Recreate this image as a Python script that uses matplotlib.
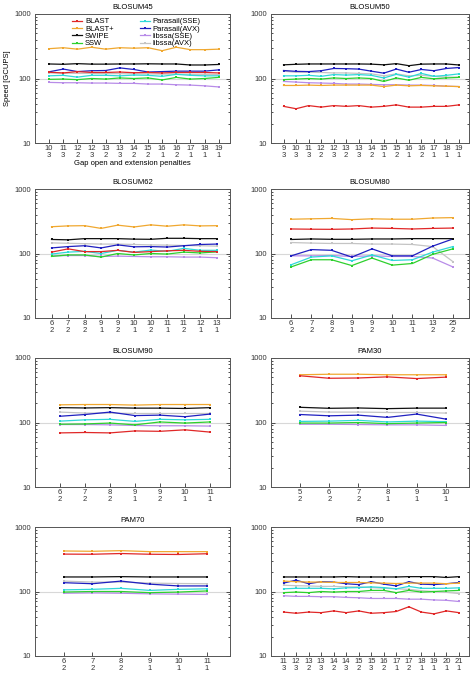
import matplotlib.pyplot as plt
from matplotlib.ticker import LogLocator, NullFormatter

plt.rcParams['font.family'] = ['Liberation Sans Narrow', 'Liberation Sans', 'DejaVu Sans']

# series order / colours / labels
names = ["BLAST", "BLAST+", "SWIPE", "SSW",
         "Parasail(SSE)", "Parasail(AVX)", "libssa(SSE)", "libssa(AVX)"]
colors = ["#e02828", "#f0a830", "#111111", "#2ed02e",
          "#30d8d8", "#2020c0", "#b88ce8", "#c4c4c4"]

# gap open / extension penalties per matrix
blosum45_ticks = ["10\n3", "11\n3", "12\n2", "12\n3", "13\n2", "13\n3", "14\n2",
                  "15\n2", "16\n1", "16\n2", "17\n1", "18\n1", "19\n1"]
blosum50_ticks = ["9\n3", "10\n3", "11\n3", "12\n2", "12\n3", "13\n2", "13\n3", "14\n2",
                  "15\n1", "15\n2", "16\n1", "16\n2", "17\n1", "18\n1", "19\n1"]
blosum62_ticks = ["6\n2", "7\n2", "8\n2", "9\n1", "9\n2", "10\n1", "10\n2",
                  "11\n1", "11\n2", "12\n1", "13\n1"]
blosum80_ticks = ["6\n2", "7\n2", "8\n2", "9\n1", "9\n2", "10\n1", "11\n1", "13\n2", "25\n2"]
blosum90_ticks = ["6\n2", "7\n2", "8\n2", "9\n1", "9\n2", "10\n1", "11\n1"]
pam30_ticks = ["5\n2", "6\n2", "7\n2", "8\n1", "9\n1", "10\n1"]
pam70_ticks = ["6\n2", "7\n2", "8\n2", "9\n1", "10\n1", "11\n1"]
pam250_ticks = ["11\n3", "12\n3", "13\n2", "13\n3", "14\n2", "14\n3", "15\n2", "15\n3",
                "16\n2", "17\n1", "17\n2", "18\n1", "19\n1", "20\n1", "21\n1"]

# speed in GCUPS, one list per tool (order of `names`)
blosum45 = [
    [125, 122, 128, 124, 124, 126, 123, 124, 122, 124, 124, 124, 122],
    [290, 300, 285, 305, 285, 300, 295, 300, 270, 305, 280, 280, 285],
    [168, 166, 170, 167, 167, 168, 168, 169, 168, 168, 162, 162, 165],
    [97, 98, 96, 100, 98, 102, 100, 102, 95, 104, 98, 100, 104],
    [110, 112, 105, 112, 112, 110, 113, 112, 108, 116, 112, 110, 110],
    [127, 140, 128, 132, 133, 146, 138, 126, 128, 130, 130, 130, 136],
    [87, 86, 86, 85, 85, 84, 84, 82, 82, 80, 79, 77, 74],
    [122, 121, 120, 120, 119, 119, 118, 118, 117, 117, 116, 116, 115],
]
blosum50 = [
    [37, 34, 38, 36, 38, 37, 38, 36, 37, 39, 36, 36, 37, 37, 39],
    [78, 78, 79, 78, 79, 79, 79, 79, 75, 79, 77, 78, 77, 76, 75],
    [163, 166, 168, 168, 168, 168, 168, 167, 163, 170, 158, 167, 168, 168, 162],
    [96, 98, 100, 98, 102, 100, 102, 100, 90, 102, 94, 104, 99, 102, 104],
    [110, 110, 112, 108, 115, 113, 115, 112, 102, 116, 105, 120, 108, 112, 118],
    [133, 129, 128, 132, 143, 142, 140, 130, 121, 140, 125, 138, 132, 143, 148],
    [90, 88, 86, 85, 84, 82, 82, 81, 80, 80, 79, 79, 78, 76, 75],
    [130, 125, 125, 124, 122, 122, 120, 118, 110, 118, 110, 112, 108, 105, 105],
]
blosum62 = [
    [105, 118, 107, 107, 112, 104, 107, 110, 112, 108, 107],
    [260, 268, 270, 245, 275, 258, 278, 265, 278, 268, 270],
    [165, 163, 170, 170, 170, 167, 166, 172, 172, 170, 170],
    [90, 95, 95, 88, 100, 95, 100, 98, 105, 102, 106],
    [98, 105, 108, 100, 112, 105, 113, 108, 120, 112, 112],
    [122, 128, 132, 122, 136, 127, 128, 126, 132, 138, 140],
    [92, 93, 93, 90, 91, 90, 89, 89, 88, 88, 86],
    [146, 144, 142, 140, 140, 138, 136, 135, 133, 132, 130],
]
blosum80 = [
    [240, 238, 237, 240, 248, 245, 240, 245, 248],
    [340, 345, 350, 335, 345, 340, 340, 355, 360],
    [165, 168, 166, 166, 168, 168, 170, 170, 170],
    [62, 80, 80, 65, 85, 66, 70, 97, 118],
    [67, 88, 92, 77, 95, 78, 80, 105, 128],
    [92, 115, 112, 88, 118, 92, 92, 130, 168],
    [92, 92, 93, 90, 92, 90, 90, 85, 62],
    [148, 145, 143, 143, 140, 140, 138, 128, 75],
]
blosum90 = [
    [69, 70, 69, 74, 73, 77, 71],
    [188, 190, 190, 186, 190, 190, 190],
    [170, 168, 170, 167, 167, 165, 170],
    [94, 95, 98, 92, 102, 98, 102],
    [105, 110, 112, 104, 112, 110, 112],
    [125, 133, 145, 128, 130, 123, 135],
    [93, 93, 92, 90, 89, 89, 88],
    [145, 140, 140, 138, 138, 138, 138],
]
pam30 = [
    [530, 485, 490, 510, 480, 505],
    [550, 560, 560, 550, 550, 550],
    [172, 166, 168, 164, 167, 167],
    [98, 98, 100, 96, 98, 100],
    [104, 105, 108, 102, 105, 103],
    [133, 127, 130, 120, 135, 113],
    [94, 94, 93, 92, 92, 90],
    [150, 145, 145, 143, 143, 140],
]
pam70 = [
    [380, 378, 388, 378, 375, 385],
    [425, 420, 430, 415, 415, 415],
    [168, 168, 170, 168, 168, 168],
    [98, 100, 100, 96, 98, 102],
    [106, 108, 112, 104, 108, 110],
    [137, 132, 145, 130, 122, 122],
    [94, 95, 94, 92, 91, 90],
    [145, 140, 140, 135, 133, 132],
]
pam250 = [
    [48, 46, 48, 47, 50, 47, 50, 46, 47, 49, 58, 48, 45, 50, 47],
    [145, 142, 140, 140, 138, 138, 138, 136, 135, 133, 135, 135, 135, 132, 135],
    [168, 168, 168, 168, 168, 170, 168, 168, 168, 168, 170, 170, 170, 165, 170],
    [96, 98, 96, 100, 98, 100, 100, 104, 104, 96, 104, 98, 100, 102, 104],
    [110, 112, 112, 112, 110, 114, 115, 118, 115, 110, 120, 112, 112, 112, 114],
    [135, 150, 132, 142, 140, 132, 128, 142, 130, 122, 142, 130, 128, 132, 138],
    [86, 84, 84, 83, 83, 81, 80, 78, 78, 78, 76, 76, 74, 73, 70],
    [125, 123, 122, 120, 120, 118, 118, 115, 112, 110, 108, 103, 100, 97, 93],
]

panels = [
    ("BLOSUM45", blosum45_ticks, blosum45),
    ("BLOSUM50", blosum50_ticks, blosum50),
    ("BLOSUM62", blosum62_ticks, blosum62),
    ("BLOSUM80", blosum80_ticks, blosum80),
    ("BLOSUM90", blosum90_ticks, blosum90),
    ("PAM30", pam30_ticks, pam30),
    ("PAM70", pam70_ticks, pam70),
    ("PAM250", pam250_ticks, pam250),
]

W, H = 472, 673
fig = plt.figure(figsize=(W / 100, H / 100), dpi=100)

col_x = [(35, 195), (271, 198)]
row_y = [14, 189, 358, 527]
ax_h = 129

fs = 5.5
for i, (title, ticks, series) in enumerate(panels):
    r, c = divmod(i, 2)
    x0, w = col_x[c]
    top = row_y[r]
    ax = fig.add_axes([x0 / W, 1 - (top + ax_h) / H, w / W, ax_h / H])
    n = len(ticks)
    xs = list(range(1, n + 1))
    # light gray libssa(AVX) first so the others sit on top
    for k in [7, 6, 5, 4, 3, 2, 1, 0]:
        ax.plot(xs, series[k], color=colors[k], lw=0.9, marker="s", ms=1.8,
                mew=0, label=names[k], zorder=3)
    ax.set_yscale("log")
    ax.set_ylim(10, 1000)
    ax.set_xlim(0, n + 0.8)
    ax.set_xticks(xs)
    ax.set_xticklabels(ticks, fontsize=fs, linespacing=1.0)
    ax.set_yticks([10, 100, 1000])
    ax.set_yticklabels(["10", "100", "1000"], fontsize=fs)
    ax.yaxis.set_minor_locator(LogLocator(base=10, subs=range(2, 10)))
    ax.yaxis.set_minor_formatter(NullFormatter())
    ax.tick_params(axis="both", which="both", direction="in", right=True,
                   colors="#333333", width=0.6)
    ax.tick_params(axis="y", which="major", length=3, pad=3)
    ax.tick_params(axis="y", which="minor", length=1.5)
    ax.tick_params(axis="x", length=3, pad=1.5)
    ax.axhline(100, color="#d8d8d8", lw=0.8, zorder=1)
    for s in ax.spines.values():
        s.set_color("#555555")
        s.set_linewidth(0.7)
    ax.set_title(title, fontsize=fs, pad=3.5)
    if i == 0:
        ax.set_ylabel("Speed [GCUPS]", fontsize=fs, labelpad=2)
        ax.set_xlabel("Gap open and extension penalties", fontsize=fs, labelpad=0.5)
        handles, labels = ax.get_legend_handles_labels()
        hmap = dict(zip(labels, handles))
        ax.legend([hmap[nm] for nm in names], names, ncol=2, fontsize=fs,
                  loc="upper left", bbox_to_anchor=(72 / W, 1 - 18 / H),
                  bbox_transform=fig.transFigure, frameon=False,
                  handlelength=1.3, labelspacing=0.0, columnspacing=3.4,
                  handletextpad=0.4, borderaxespad=0, borderpad=0)

fig.savefig("out.png", dpi=100)
plt.close(fig)
